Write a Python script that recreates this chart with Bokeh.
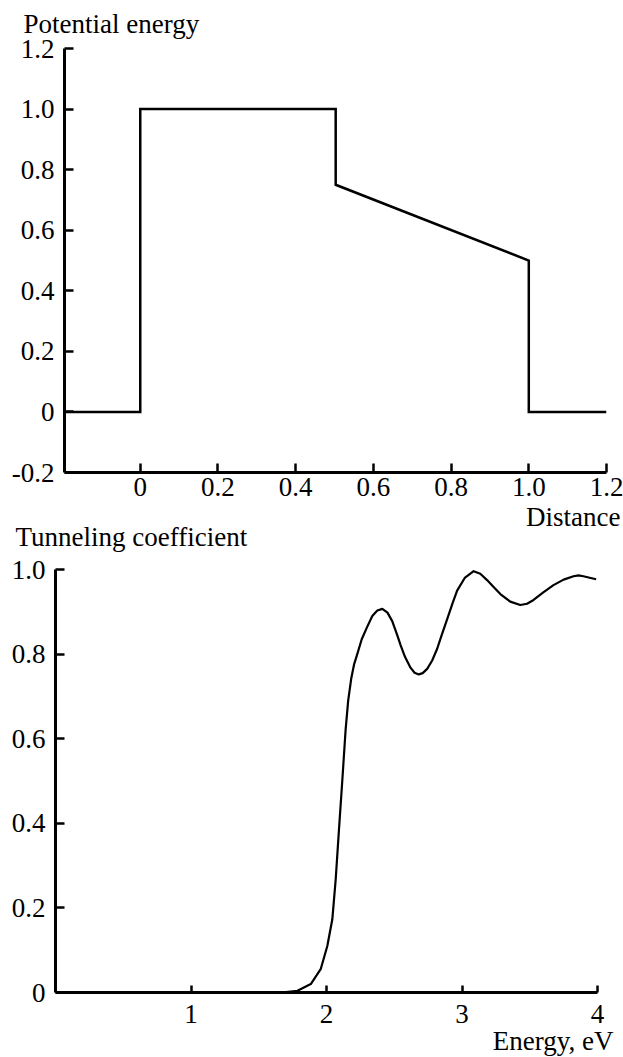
from bokeh.plotting import figure
from bokeh.layouts import column, row
from bokeh.models import Title, FixedTicker, Range1d
from bokeh.embed import file_html
from bokeh.resources import INLINE

# ---- data: potential profile ----
distance = [-0.195, 0.0, 0.0, 0.503, 0.503, 1.0, 1.0, 1.2]
potential = [0.0, 0.0, 1.0, 1.0, 0.75, 0.5, 0.0, 0.0]

top_x_ticks = [0, 0.2, 0.4, 0.6, 0.8, 1.0, 1.2]
top_x_labels = ["0", "0.2", "0.4", "0.6", "0.8", "1.0", "1.2"]
top_y_ticks = [-0.2, 0, 0.2, 0.4, 0.6, 0.8, 1.0, 1.2]
top_y_labels = ["-0.2", "0", "0.2", "0.4", "0.6", "0.8", "1.0", "1.2"]

# ---- data: tunneling coefficient ----
energy = [0.0, 0.5, 1.0, 1.5, 1.7, 1.786, 1.884, 1.957, 2.006, 2.043, 2.068,
          2.092, 2.117, 2.141, 2.16, 2.183, 2.203, 2.227, 2.26, 2.301, 2.338,
          2.375, 2.412, 2.45, 2.485, 2.522, 2.546, 2.58, 2.62, 2.65, 2.681,
          2.71, 2.743, 2.78, 2.816, 2.85, 2.89, 2.93, 2.964, 3.02, 3.086,
          3.135, 3.185, 3.235, 3.283, 3.356, 3.43, 3.48, 3.528, 3.6, 3.675,
          3.75, 3.823, 3.86, 3.896, 3.95, 3.99]
tunneling = [0.0, 0.0, 0.0, 0.0005, 0.001, 0.004, 0.020, 0.055, 0.110, 0.173,
             0.268, 0.385, 0.503, 0.621, 0.69, 0.743, 0.775, 0.800, 0.835,
             0.865, 0.890, 0.903, 0.907, 0.898, 0.878, 0.845, 0.822, 0.793,
             0.768, 0.756, 0.752, 0.755, 0.765, 0.785, 0.812, 0.845, 0.882,
             0.920, 0.950, 0.980, 0.996, 0.990, 0.975, 0.958, 0.942, 0.924,
             0.916, 0.919, 0.928, 0.946, 0.963, 0.976, 0.984, 0.986, 0.984,
             0.980, 0.977]

bot_x_ticks = [1, 2, 3, 4]
bot_x_labels = ["1", "2", "3", "4"]
bot_y_ticks = [0, 0.2, 0.4, 0.6, 0.8, 1.0]
bot_y_labels = ["0", "0.2", "0.4", "0.6", "0.8", "1.0"]

FONT = "Liberation Serif"
FS = "27px"


def style(p, xt, xl, yt, yl, x_tick_in, y_tick_in, x_standoff):
    p.xgrid.visible = False
    p.ygrid.visible = False
    p.outline_line_color = None
    p.background_fill_color = "white"
    p.border_fill_color = "white"
    for ax in (p.xaxis[0], p.yaxis[0]):
        ax.axis_line_width = 3
        ax.axis_line_color = "black"
        ax.major_tick_line_width = 2.5
        ax.major_tick_line_color = "black"
        ax.major_tick_out = 0
        ax.minor_tick_line_color = None
        ax.major_label_text_font = FONT
        ax.major_label_text_font_size = FS
        ax.major_label_text_color = "black"
    p.xaxis[0].ticker = FixedTicker(ticks=xt)
    p.xaxis[0].major_label_overrides = {t: l for t, l in zip(xt, xl)}
    p.yaxis[0].ticker = FixedTicker(ticks=yt)
    p.yaxis[0].major_label_overrides = {t: l for t, l in zip(yt, yl)}
    p.xaxis[0].major_tick_in = x_tick_in
    p.yaxis[0].major_tick_in = y_tick_in
    p.xaxis[0].major_label_standoff = x_standoff
    p.yaxis[0].major_label_standoff = 10


def title(text, align, offset, standoff):
    return Title(text=text, align=align, offset=offset, standoff=standoff,
                 vertical_align="top",
                 text_font=FONT, text_font_size=FS, text_font_style="normal",
                 text_color="black")


# ---- top figure (also carries the lower chart's heading) ----
p1 = figure(width=623, height=555, output_backend="svg", toolbar_location=None,
            x_range=Range1d(-0.195, 1.2), y_range=Range1d(-0.2, 1.2),
            min_border_left=64, min_border_right=17, min_border_top=48,
            min_border_bottom=83)
style(p1, top_x_ticks, top_x_labels, top_y_ticks, top_y_labels, 9, 9, 5)
p1.line(distance, potential, line_color="black", line_width=2.5, line_join="miter")
p1.add_layout(title("Potential energy", "left", -41, 15), "above")
p1.add_layout(title("Distance", "right", -14, 6), "below")
p1.add_layout(title("Tunneling coefficient", "left", -49, -30), "below")

# ---- bottom figure ----
p2 = figure(width=623, height=502, output_backend="svg", toolbar_location=None,
            x_range=Range1d(0, 4), y_range=Range1d(0, 1.0),
            min_border_left=55, min_border_right=26, min_border_top=14,
            min_border_bottom=64)
style(p2, bot_x_ticks, bot_x_labels, bot_y_ticks, bot_y_labels, 7, 9, 12)
p2.line(energy, tunneling, line_color="black", line_width=2.2, line_join="round")
p2.add_layout(title("Energy, eV", "right", -16, 0), "below")

layout = column(row(p1), row(p2), spacing=0)
open("out.html", "w").write(file_html(layout, INLINE))
